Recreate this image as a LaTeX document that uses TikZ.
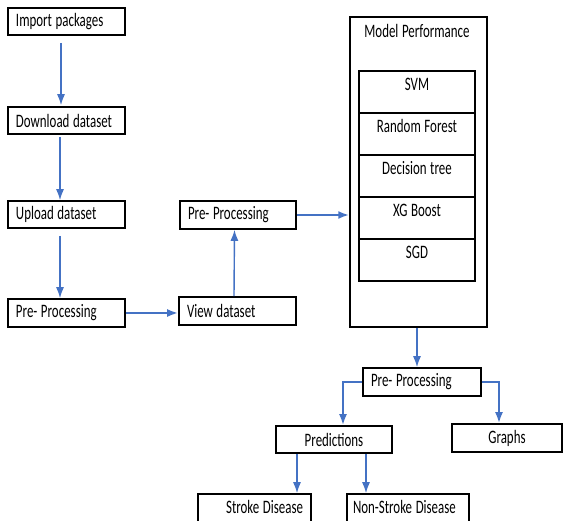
\documentclass[tikz,border=0pt]{standalone}
\usepackage{fontspec}
\setmainfont[FakeStretch=0.68]{Carlito}
\usepackage{tikz}
\usetikzlibrary{arrows.meta}
\definecolor{flowblue}{HTML}{4472C4}

\begin{document}
\begin{tikzpicture}[x = 1pt, y = -1pt, font = \fontsize{19}{22}\selectfont,
                        every node/.style = {execute at begin node = {\spaceskip = 3.6pt\relax}},
                        box/.style = {draw, line width = 1.6pt, minimum height = 27pt, inner ysep = 0pt, inner xsep = 8pt},
                        lbox/.style = {box, align = left, text width = #1},
                        cbox/.style = {box, align = center, text width = #1},
                        row/.style = {draw, line width = 1.6pt, minimum width = 116pt, minimum height = 42pt, inner sep = 0pt,
                                      text height = 13pt, text depth = 15pt},
                        flow/.style = {draw = flowblue, line width = 1.4pt, -{Latex[length = 11pt, width = 8pt]}},
                        bigflow/.style = {flow, line width = 2.4pt}]
      \useasboundingbox (0, 0) rectangle (563, 521);
      % left column
      \node [lbox = 101pt] (imp) at (66.5, 21.5){Import packages};
      \node [lbox = 101pt] (dl) at (66.5, 120.5){Download dataset};
      \node [lbox = 101pt] (up) at (66.5, 214.5){Upload dataset};
      \node [lbox = 101pt, minimum height = 28pt] (pp1) at (66.5, 313){Pre- Processing};
      \node [lbox = 101pt, minimum height = 28pt] (view) at (237.5, 311){View dataset};
      \node [lbox = 100pt, minimum height = 28pt] (pp2) at (238, 215){Pre- Processing};
      % model block
      \node [draw, line width = 1.4pt, minimum width = 137pt, minimum height = 310pt] (model) at (418.5, 172){};
      \node (mtitle) at (417, 31){Model Performance};
      \node [row] (svm) at (417, 92){SVM};
      \node [row] (rf) at (417, 134){Random Forest};
      \node [row] (dt) at (417, 176){Decision tree};
      \node [row] (xgb) at (417, 218){XG Boost};
      \node [row] (sgd) at (417, 260){SGD};
      % lower part
      \node [lbox = 102pt, minimum height = 28pt] (pp3) at (422, 382){Pre- Processing};
      \node [cbox = 100pt] (pred) at (334, 439.5){Predictions};
      \node [cbox = 94pt, minimum height = 28pt] (graphs) at (507, 438){Graphs};
      \node [box, align = right, text width = 97pt, minimum height = 46pt, text height = 13pt, text depth = 19pt] (stroke) at (254.5, 517){Stroke Disease};
      \node [box, align = left, inner xsep = 6pt, text width = 110pt, minimum height = 46pt, text height = 13pt, text depth = 19pt] (nstroke) at (408, 517){Non-Stroke Disease};
      % connectors
      \draw [flow, shorten <= 7pt, shorten >= 1pt] ([xshift = -5.5pt]imp.south) -- ([xshift = -5.5pt]dl.north);
      \draw [flow, shorten <= 2pt, shorten >= 0pt] ([xshift = -6.5pt]dl.south) -- ([xshift = -6.5pt]up.north);
      \draw [flow, shorten <= 7pt, shorten >= 0pt] ([xshift = -6.5pt]up.south) -- ([xshift = -6.5pt]pp1.north);
      \draw [bigflow] (pp1.east) -- (pp1.east -| view.west);
      \draw [flow] ([xshift = -3.5pt]view.north) -- ([xshift = -3.5pt]pp2.south);
      \draw [bigflow] (pp2.east) -- (pp2.east -| model.west);
      \draw [flow] (model.south -| svm.south) -- (svm.south |- pp3.north);
      \draw [flow, line width = 2pt] (pp3.west) -| ([xshift = 9pt]pred.north);
      \draw [flow, line width = 2pt] (pp3.east) -| ([xshift = -8pt]graphs.north);
      \draw [flow] ([xshift = -37pt]pred.south) -- ([xshift = -37pt]pred.south |- stroke.north);
      \draw [flow] ([xshift = 32pt]pred.south) -- ([xshift = 32pt]pred.south |- nstroke.north);
    \end{tikzpicture}
\end{document}
